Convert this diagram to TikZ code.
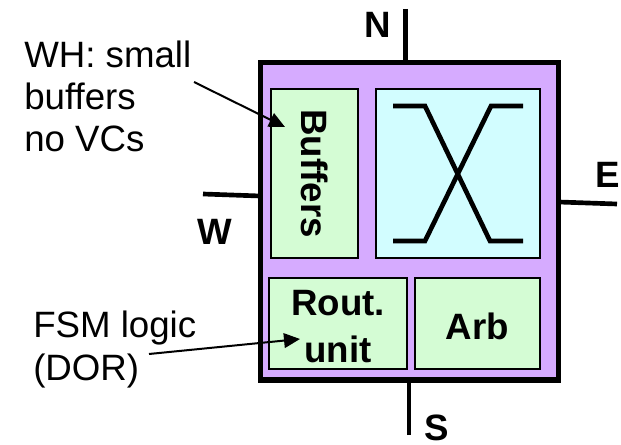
\documentclass[tikz,border=0pt]{standalone}
\usepackage{fontspec}
\setmainfont{Liberation Sans}
\usetikzlibrary{arrows.meta, positioning}
\definecolor{lPurple}{RGB}{214,171,255}
\definecolor{lGreen} {RGB}{212,252,212}
\definecolor{lCyan}  {RGB}{210,253,255}
\begin{document}
\begin{tikzpicture}[x=0.75pt, y=-0.75pt, font=\fontsize{27.5}{32}\selectfont,
    BOX/.style={draw, line width=1.6pt, fill=lGreen, inner sep=0pt, outer sep=0pt, align=center, font=\fontsize{27.5}{35}\selectfont\bfseries},
    WIRE/.style={line width=3.5pt},
    ARR/.style={-{Triangle[length=12pt,width=11pt]}, line width=1.5pt},
    DIR/.style={font=\fontsize{27.5}{32}\selectfont\bfseries, inner sep=0pt}]
    \useasboundingbox (0,0) rectangle (621,445);
    \node[draw, line width=3.8pt, fill=lPurple, minimum width=224pt, minimum height=238pt, inner sep=0pt, outer sep=0pt] (router) at (409.4,221.3) {};
    \node[BOX, rotate=-90, minimum width=126.5pt, minimum height=65.5pt] (buffers) at (314.5,173.5) {Buffers};
    \node[BOX, fill=lCyan, minimum width=123pt, minimum height=126.5pt] (xbar) at (458,173.5) {};
    \node[BOX, minimum width=103.5pt, minimum height=68.5pt] (rout) at (338,323.5) {\rule{0pt}{23.5pt}Rout.\\unit};
    \node[BOX, minimum width=94pt, minimum height=68.5pt, text height=24pt] (arb) at (477.5,323.5) {Arb};
    % crossbar
    \draw[WIRE] (393,106) -- (425,106) -- (490,241) -- (523,241);
    \draw[WIRE] (523,106) -- (491,106) -- (425,241) -- (393,241);
    % ports
    \coordinate (nEnd) at (405.7,9);
    \coordinate (eEnd) at (617,204);
    \coordinate (wEnd) at (203,194);
    \coordinate (sEnd) at (409,435);
    \draw[WIRE] (nEnd) -- (nEnd |- router.north);
    \draw[WIRE] (eEnd) -- (router.east |- 0,202);
    \draw[WIRE] (wEnd) -- (router.west |- 0,196);
    \draw[WIRE] (sEnd) -- (sEnd |- router.south);
    \node[DIR] (nLabel) at (378,25) {N};
    \node[DIR] (eLabel) at (608,175) {E};
    \node[DIR] (wLabel) at (215,232) {W};
    \node[DIR] (sLabel) at (437,428) {S};
    % notes
    \node[align=left, anchor=base west, inner sep=0pt, font=\fontsize{27.5}{31.5}\selectfont] (wh) at (24,152) {WH: small\\buffers\\no VCs};
    \node[align=left, anchor=base west, inner sep=0pt, font=\fontsize{27.5}{32}\selectfont] (fsm) at (33,380) {FSM logic\\(DOR)};
    \coordinate (whTip) at (285,127);
    \coordinate (fsmTip) at (300,339);
    \coordinate (whStart) at (194,82);
    \coordinate (fsmStart) at (149,354);
    \draw[ARR] (whStart) -- (whTip);
    \draw[ARR] (fsmStart) -- (fsmTip);
\end{tikzpicture}
\end{document}
